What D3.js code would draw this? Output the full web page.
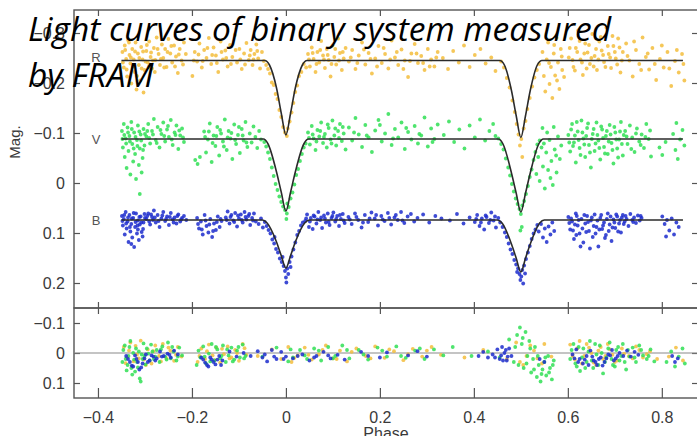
<!DOCTYPE html>
<html>
<head>
  <meta charset="utf-8">
  <title>FRAM light curves</title>
  <style>
    body { margin: 0; background: #fff; }
    svg { display: block; }
  </style>
</head>
<body>
<script src="https://cdn.jsdelivr.net/npm/d3@7"></script>
<script>
  // observed magnitudes per filter, [phase, mag]
  var rPoints = [
    [-.348,-.262],[-.345,-.231],[-.343,-.275],[-.340,-.248],[-.338,-.213],[-.336,-.286],[-.333,-.256],[-.331,-.239],[-.329,-.199],[-.327,-.268],[-.324,-.247],[-.322,-.222],[-.320,-.281],[-.318,-.187],[-.315,-.259],[-.313,-.236],[-.310,-.205],[-.308,-.272],[-.305,-.247],[-.303,-.181],[-.301,-.226],
    [-.347,-.241],[-.342,-.266],[-.339,-.227],[-.334,-.281],[-.330,-.251],[-.326,-.233],[-.321,-.263],[-.317,-.214],[-.312,-.250],[-.307,-.229],[-.304,-.263],
    [-.297,-.264],[-.294,-.241],[-.291,-.283],[-.288,-.252],[-.285,-.229],[-.281,-.270],[-.278,-.246],[-.275,-.291],[-.271,-.258],[-.268,-.236],[-.264,-.277],[-.261,-.250],[-.257,-.268],[-.254,-.232],[-.250,-.288],[-.246,-.259],[-.242,-.241],[-.238,-.275],[-.234,-.253],[-.230,-.220],[-.226,-.268],[-.222,-.245],[-.217,-.281],[-.213,-.258],
    [-.299,-.243],[-.296,-.276],[-.292,-.232],[-.287,-.261],[-.283,-.245],[-.279,-.222],[-.273,-.268],[-.266,-.248],[-.259,-.231],[-.252,-.262],[-.244,-.274],[-.236,-.233],[-.228,-.257],[-.219,-.237],
    [-.199,-.214],[-.194,-.262],[-.189,-.243],[-.184,-.279],[-.179,-.231],[-.174,-.266],[-.169,-.250],[-.164,-.290],[-.159,-.238],[-.154,-.271],[-.149,-.255],[-.144,-.222],[-.139,-.283],[-.134,-.247],[-.129,-.265],[-.124,-.233],[-.119,-.276],[-.114,-.252],[-.109,-.296],[-.104,-.241],[-.099,-.268],[-.094,-.228],[-.089,-.259],[-.084,-.280],
    [-.196,-.245],[-.186,-.257],[-.177,-.244],[-.167,-.270],[-.157,-.256],[-.147,-.240],[-.137,-.262],[-.127,-.250],[-.117,-.238],[-.107,-.266],[-.097,-.247],[-.087,-.237],
    [-.079,-.246],[-.075,-.266],[-.071,-.236],[-.067,-.258],[-.063,-.277],[-.059,-.249],[-.055,-.229],[-.051,-.262],[-.047,-.244],[-.077,-.255],[-.069,-.247],[-.061,-.264],
    [-.042,-.236],[-.038,-.228],[-.034,-.219],[-.030,-.201],[-.026,-.196],[-.022,-.178],[-.018,-.168],[-.014,-.146],[-.010,-.132],[-.006,-.112],[-.002,-.101],[.002,-.094],[.004,-.109],[.008,-.123],[.012,-.141],[.016,-.160],[.020,-.182],[.024,-.195],[.028,-.214],[.033,-.222],[.038,-.238],[.043,-.231],
    [.047,-.258],[.051,-.233],[.055,-.271],[.059,-.248],[.063,-.222],[.067,-.262],[.071,-.241],[.075,-.284],[.079,-.255],[.083,-.230],[.087,-.268],[.091,-.246],[.095,-.213],[.099,-.275],[.103,-.252],[.107,-.237],[.111,-.289],[.115,-.260],[.119,-.226],[.123,-.249],[.127,-.270],
    [.049,-.247],[.057,-.260],[.065,-.238],[.073,-.266],[.081,-.247],[.089,-.256],[.097,-.238],[.105,-.268],[.113,-.245],[.121,-.262],
    [.134,-.243],[.141,-.266],[.148,-.228],[.155,-.255],[.162,-.281],[.169,-.237],[.176,-.260],[.183,-.219],[.190,-.249],[.197,-.274],[.204,-.240],[.211,-.258],[.218,-.229],[.225,-.285],[.232,-.251],[.239,-.236],[.246,-.267],[.253,-.245],[.260,-.212],[.267,-.259],[.274,-.278],[.281,-.240],[.288,-.254],[.295,-.226],[.302,-.268],[.309,-.247],[.316,-.233],[.323,-.262],
    [.138,-.251],[.152,-.240],[.166,-.267],[.180,-.248],[.194,-.233],[.208,-.270],[.222,-.247],[.236,-.262],[.250,-.228],[.264,-.244],[.278,-.259],[.292,-.240],[.306,-.233],[.320,-.251],
    [.334,-.250],[.345,-.228],[.356,-.264],[.368,-.241],[.379,-.275],[.391,-.232],[.402,-.256],[.414,-.268],[.425,-.239],[.437,-.251],[.446,-.224],
    [.458,-.243],[.464,-.231],[.470,-.210],[.476,-.191],[.482,-.165],[.487,-.142],[.491,-.118],[.495,-.097],[.498,-.075],[.501,-.088],[.503,-.052],[.506,-.109],[.510,-.124],[.514,-.148],[.519,-.170],[.524,-.193],[.529,-.211],[.534,-.226],[.539,-.238],
    [.546,-.262],[.549,-.214],[.552,-.183],[.555,-.247],[.558,-.281],[.561,-.198],[.564,-.232],[.567,-.170],[.570,-.259],[.573,-.215],[.576,-.290],[.579,-.241],[.582,-.188],[.585,-.268],[.588,-.226],
    [.560,-.240],[.571,-.276],[.577,-.205],[.587,-.253],[.592,-.212],
    [.602,-.251],[.607,-.289],[.612,-.232],[.617,-.270],[.622,-.305],[.627,-.247],[.632,-.216],[.637,-.279],[.642,-.261],[.647,-.238],[.652,-.298],[.657,-.254],[.662,-.226],[.667,-.283],[.672,-.265],[.677,-.242],[.682,-.311],[.687,-.258],[.692,-.230],[.697,-.274],[.702,-.249],[.707,-.289],[.712,-.221],[.717,-.262],
    [.604,-.270],[.610,-.246],[.615,-.225],[.620,-.262],[.625,-.284],[.630,-.241],[.635,-.259],[.640,-.229],[.645,-.276],[.650,-.250],[.655,-.233],[.660,-.268],[.665,-.247],[.670,-.292],[.675,-.256],[.680,-.232],[.685,-.274],[.690,-.251],[.695,-.294],[.700,-.262],[.705,-.237],[.710,-.271],[.715,-.245],
    [.724,-.279],[.731,-.245],[.738,-.213],[.745,-.266],[.752,-.238],[.759,-.291],[.766,-.252],[.773,-.227],[.780,-.270],[.788,-.206],[.796,-.248],[.804,-.231],[.812,-.262],[.820,-.194],[.828,-.244],[.836,-.221],[.843,-.258],[.848,-.205],
    [.727,-.254],[.741,-.283],[.756,-.226],[.770,-.259],[.785,-.238],[.800,-.275],[.816,-.229],[.832,-.266],[.846,-.238]
  ];

  var vPoints = [
    [-.349,-.104],[-.347,-.071],[-.345,-.118],[-.343,-.052],[-.341,-.089],[-.339,-.030],[-.337,-.111],[-.335,-.064],[-.333,-.094],[-.331,-.017],[-.329,-.122],[-.327,-.078],[-.325,-.043],[-.323,-.101],[-.321,-.058],[-.319,-.008],[-.317,-.086],[-.315,-.115],[-.313,-.036],[-.311,-.069],[-.309,-.097],[-.307,-.021],[-.305,-.050],[-.303,-.108],[-.301,-.075],[-.311,.022],
    [-.348,-.088],[-.344,-.096],[-.340,-.079],[-.336,-.101],[-.332,-.083],[-.328,-.108],[-.324,-.069],[-.320,-.092],[-.316,-.074],[-.312,-.103],[-.308,-.085],[-.304,-.066],[-.300,-.098],
    [-.297,-.093],[-.293,-.118],[-.289,-.079],[-.285,-.104],[-.281,-.128],[-.277,-.086],[-.273,-.112],[-.269,-.071],[-.265,-.098],[-.261,-.121],[-.257,-.083],[-.253,-.107],[-.249,-.092],[-.245,-.126],[-.241,-.076],[-.237,-.101],[-.233,-.115],[-.229,-.068],[-.225,-.095],[-.221,-.109],[-.217,-.082],
    [-.295,-.104],[-.291,-.090],[-.283,-.097],[-.275,-.080],[-.267,-.106],[-.259,-.094],[-.251,-.114],[-.243,-.087],[-.235,-.096],[-.227,-.105],[-.219,-.091],
    [-.193,-.046],[-.188,-.038],[-.183,-.052],
    [-.174,-.103],[-.170,-.061],[-.166,-.087],[-.162,-.119],[-.158,-.042],[-.154,-.095],[-.150,-.074],[-.146,-.112],[-.142,-.055],[-.138,-.099],[-.134,-.083],[-.130,-.127],[-.126,-.066],[-.122,-.104],[-.118,-.089],[-.114,-.048],[-.110,-.117],[-.106,-.078],[-.102,-.096],[-.098,-.060],[-.094,-.108],[-.090,-.085],[-.086,-.122],[-.082,-.072],
    [-.172,-.092],[-.164,-.103],[-.156,-.080],[-.148,-.094],[-.140,-.106],[-.132,-.073],[-.124,-.091],[-.116,-.100],[-.108,-.086],[-.100,-.112],[-.092,-.095],[-.084,-.081],
    [-.077,-.099],[-.073,-.081],[-.069,-.113],[-.065,-.092],[-.061,-.070],[-.057,-.104],[-.053,-.087],
    [-.046,-.082],[-.042,-.073],[-.038,-.061],[-.034,-.048],[-.030,-.031],[-.026,-.014],[-.022,.002],[-.018,.014],[-.014,.027],[-.010,.038],[-.006,.047],[-.002,.054],[.002,.061],[.003,.041],[.006,.048],[.010,.031],[.014,.019],[.018,.003],[.022,-.016],[.026,-.028],[.030,-.044],[.034,-.058],[.038,-.071],[.042,-.079],[.001,.072],
    [.047,-.101],[.051,-.077],[.055,-.114],[.059,-.089],[.063,-.066],[.067,-.106],[.071,-.093],[.075,-.121],[.079,-.080],[.083,-.098],[.087,-.071],[.091,-.110],[.095,-.087],[.099,-.125],[.103,-.095],[.107,-.075],[.111,-.104],[.115,-.118],[.119,-.084],[.123,-.099],[.127,-.067],
    [.049,-.090],[.057,-.097],[.065,-.083],[.073,-.104],[.081,-.092],[.089,-.117],[.097,-.079],[.105,-.109],[.113,-.090],[.121,-.112],
    [.134,-.111],[.141,-.085],[.148,-.130],[.155,-.097],[.162,-.072],[.169,-.116],[.176,-.091],[.183,-.062],[.190,-.105],[.197,-.126],[.204,-.083],[.211,-.099],[.218,-.138],[.225,-.076],[.232,-.108],[.239,-.091],[.246,-.121],[.253,-.068],[.260,-.102],[.267,-.087],[.274,-.114],[.281,-.079],[.288,-.095],[.295,-.131],[.302,-.073],[.309,-.109],[.316,-.088],[.323,-.117],
    [.145,-.101],[.172,-.095],[.200,-.116],[.228,-.089],[.256,-.110],[.284,-.098],[.312,-.082],
    [.336,-.096],[.347,-.123],[.358,-.082],[.369,-.107],[.380,-.069],[.391,-.115],[.402,-.091],[.413,-.127],[.424,-.085],[.433,-.104],[.441,-.118],[.446,-.094],
    [.452,-.089],[.458,-.078],[.463,-.067],[.468,-.049],[.473,-.031],[.477,-.015],[.481,.002],[.485,.017],[.489,.031],[.493,.042],[.497,.052],[.500,.062],[.502,.088],[.503,.045],[.507,.036],[.511,.022],[.515,.006],[.519,-.012],[.523,-.027],[.527,-.046],[.531,-.062],[.535,-.077],[.540,-.085],[.499,.095],
    [.533,-.018],[.537,-.052],[.540,-.004],[.544,-.071],[.547,-.033],[.551,.011],[.554,-.061],[.558,-.026],[.561,-.086],[.565,-.044],[.568,.004],[.572,-.067],[.576,-.021],[.579,-.093],[.583,-.048],[.546,-.110],[.556,-.101],[.570,-.112],
    [.549,-.079],[.563,-.010],[.575,-.055],[.586,-.075],
    [.601,-.096],[.605,-.063],[.609,-.118],[.613,-.081],[.617,-.041],[.621,-.103],[.625,-.070],[.629,-.125],[.633,-.089],[.637,-.052],[.641,-.110],[.645,-.076],[.649,-.031],[.653,-.098],[.657,-.064],[.661,-.121],[.665,-.085],[.669,-.047],[.673,-.107],[.677,-.072],[.681,-.094],[.685,-.058],[.689,-.116],[.693,-.080],[.697,-.039],[.701,-.101],[.705,-.069],[.709,-.087],[.713,-.122],[.717,-.055],
    [.603,-.081],[.607,-.107],[.611,-.074],[.615,-.095],[.619,-.122],[.623,-.086],[.627,-.056],[.631,-.101],[.635,-.077],[.639,-.094],[.643,-.119],[.647,-.061],[.651,-.088],[.655,-.108],[.659,-.079],[.663,-.096],[.667,-.070],[.671,-.113],[.675,-.090],[.679,-.059],[.683,-.104],[.687,-.083],[.691,-.097],[.695,-.066],[.699,-.112],[.703,-.087],[.707,-.051],[.711,-.103],[.715,-.078],[.719,-.096],
    [.722,-.104],[.727,-.078],[.732,-.115],[.737,-.091],[.742,-.062],[.747,-.109],[.752,-.083],[.757,-.097],[.762,-.070],[.767,-.118],[.772,-.088],[.777,-.053],
    [.725,-.093],[.735,-.068],[.745,-.099],[.755,-.076],[.765,-.092],[.775,-.105],
    [.795,-.071],[.801,-.056],[.808,-.082],[.824,-.098],[.829,-.066],[.834,-.048],[.839,-.087],[.844,-.106],[.848,-.075],[.831,-.120]
  ];

  var bPoints = [
    [-.349,.066],[-.347,.085],[-.345,.072],[-.343,.103],[-.341,.058],[-.339,.091],[-.337,.077],[-.335,.118],[-.333,.064],[-.331,.097],[-.329,.082],[-.327,.109],[-.325,.070],[-.323,.128],[-.321,.088],[-.319,.061],[-.317,.101],[-.315,.075],[-.313,.114],[-.311,.083],[-.309,.067],[-.307,.098],[-.305,.107],[-.303,.079],[-.301,.062],[-.329,.122],[-.315,.093],
    [-.348,.076],[-.344,.064],[-.340,.081],[-.336,.069],[-.332,.088],[-.328,.071],[-.324,.060],[-.320,.078],[-.316,.085],[-.312,.068],[-.308,.079],[-.304,.092],[-.300,.070],
    [-.297,.072],[-.293,.061],[-.289,.083],[-.285,.068],[-.281,.055],[-.277,.079],[-.273,.064],[-.269,.088],[-.265,.071],[-.261,.058],[-.257,.076],[-.253,.067],[-.249,.084],[-.245,.060],[-.241,.073],[-.237,.069],[-.233,.081],[-.229,.063],[-.225,.077],[-.221,.070],[-.217,.066],[-.212,.074],
    [-.295,.066],[-.291,.077],[-.287,.063],[-.283,.074],[-.279,.069],[-.271,.076],[-.263,.065],[-.255,.072],[-.247,.068],[-.239,.079],[-.231,.066],[-.223,.073],
    [-.189,.070],[-.185,.091],[-.181,.077],[-.177,.103],[-.173,.064],[-.169,.086],[-.165,.099],[-.161,.072],[-.157,.108],[-.153,.081],[-.149,.094],[-.145,.067],[-.141,.088],[-.137,.076],
    [-.187,.082],[-.179,.093],[-.171,.075],[-.163,.083],[-.155,.096],[-.147,.078],[-.139,.072],
    [-.128,.069],[-.124,.057],[-.120,.081],[-.116,.064],[-.112,.075],[-.108,.060],[-.104,.087],[-.100,.071],[-.096,.063],[-.092,.079],[-.088,.058],[-.084,.073],[-.080,.066],[-.076,.084],[-.072,.070],[-.068,.061],[-.064,.077],
    [-.126,.074],[-.118,.068],[-.110,.078],[-.102,.065],[-.094,.074],[-.086,.068],[-.078,.062],[-.070,.075],
    [-.058,.082],[-.053,.071],[-.049,.089],[-.045,.078],
    [-.041,.086],[-.037,.094],[-.033,.101],[-.029,.113],[-.025,.121],[-.021,.132],[-.017,.139],[-.013,.151],[-.009,.158],[-.005,.166],[-.002,.176],[.000,.189],[.001,.199],[.003,.171],[.005,.182],[.008,.158],[.012,.147],[.016,.133],[.020,.119],[.024,.104],[.028,.096],[.032,.085],[.036,.079],[-.007,.148],[.010,.168],[-.024,.108],
    [.041,.076],[.045,.063],[.049,.088],[.053,.070],[.057,.092],[.061,.067],[.065,.081],[.069,.058],[.073,.074],[.077,.090],[.081,.065],[.085,.079],[.089,.061],[.093,.084],[.097,.070],[.101,.059],[.105,.077],[.109,.066],[.113,.086],[.117,.072],[.121,.062],[.125,.080],
    [.043,.071],[.051,.077],[.059,.065],[.067,.073],[.075,.069],[.083,.071],[.091,.078],[.099,.066],[.107,.072],[.115,.064],[.123,.075],
    [.133,.068],[.140,.082],[.147,.061],[.154,.074],[.161,.089],[.168,.064],[.175,.078],[.182,.059],[.189,.071],[.196,.085],[.203,.066],[.210,.076],[.217,.060],[.224,.083],[.231,.069],[.238,.074],[.245,.058],[.252,.080],[.259,.067],[.266,.062],[.273,.077],[.280,.070],
    [.136,.073],[.150,.068],[.164,.079],[.178,.071],[.192,.064],[.206,.073],[.220,.070],[.234,.064],[.248,.075],
    [.292,.063],[.305,.079],[.318,.066],[.331,.071],[.349,.075],[.364,.062],[.378,.081],[.391,.069],
    [.402,.078],[.407,.064],[.412,.086],[.417,.071],[.422,.093],[.427,.068],[.432,.080],[.437,.059],[.442,.075],[.447,.089],[.452,.070],
    [.405,.072],[.415,.079],[.425,.065],[.435,.074],[.445,.067],
    [.456,.079],[.461,.088],[.466,.099],[.470,.108],[.474,.121],[.478,.133],[.482,.142],[.486,.154],[.490,.163],[.494,.171],[.497,.182],[.499,.194],[.501,.187],[.503,.174],[.505,.201],[.507,.165],[.511,.152],[.515,.139],[.519,.126],[.523,.112],[.527,.101],[.531,.093],[.535,.084],[.492,.178],[.509,.181],
    [.538,.097],[.543,.082],[.547,.109],[.551,.091],[.555,.118],[.559,.087],[.563,.103],[.567,.079],[.571,.096],
    [.601,.068],[.605,.093],[.609,.077],[.613,.112],[.617,.061],[.621,.085],[.625,.101],[.629,.072],[.633,.119],[.637,.081],[.641,.066],[.645,.096],[.649,.075],[.653,.108],[.657,.063],[.661,.088],[.665,.127],[.669,.070],[.673,.092],[.677,.079],[.681,.104],[.685,.061],[.689,.083],[.693,.116],[.697,.073],[.701,.090],[.705,.067],[.709,.081],[.713,.099],[.717,.064],[.721,.077],[.725,.072],[.729,.086],[.733,.062],[.737,.074],[.741,.069],[.745,.080],[.749,.065],[.753,.075],[.757,.070],[.627,.127],[.647,.131],[.618,.104],
    [.603,.080],[.607,.071],[.611,.095],[.615,.083],[.619,.066],[.623,.074],[.631,.091],[.635,.064],[.639,.098],[.643,.078],[.651,.069],[.655,.086],[.659,.101],[.663,.075],[.667,.093],[.671,.064],[.675,.085],[.679,.110],[.683,.072],[.687,.096],[.691,.067],[.695,.089],[.699,.079],[.703,.063],[.707,.097],[.711,.074],[.715,.069],[.719,.082],[.723,.066],[.739,.078],[.755,.066],
    [.801,.067],[.806,.082],[.811,.074],[.816,.095],[.821,.071],[.826,.103],[.831,.079],[.836,.088],[.809,.107]
  ];

  // fitted model curves, [phase, mag]
  var rModel = [[-.35,-.245],[-.045,-.245],[-.035,-.236],[-.02,-.19],[-.01,-.14],[0,-.096],[.01,-.14],[.02,-.19],[.035,-.236],[.045,-.245],[.455,-.245],[.465,-.236],[.48,-.185],[.49,-.135],[.5,-.091],[.51,-.135],[.52,-.185],[.535,-.236],[.545,-.245],[.845,-.245]];
  var vModel = [[-.35,-.088],[-.048,-.088],[-.038,-.078],[-.02,-.022],[-.01,.018],[0,.056],[.01,.018],[.02,-.022],[.038,-.078],[.048,-.088],[.452,-.088],[.462,-.078],[.48,-.02],[.49,.02],[.5,.058],[.51,.02],[.52,-.02],[.538,-.078],[.548,-.088],[.845,-.088]];
  var bModel = [[-.35,.074],[-.05,.074],[-.04,.08],[-.02,.118],[-.01,.145],[0,.17],[.01,.145],[.02,.118],[.04,.08],[.05,.074],[.45,.074],[.46,.08],[.48,.122],[.49,.15],[.5,.178],[.51,.15],[.52,.122],[.54,.08],[.55,.074],[.845,.074]];

  // residuals observed minus model, [phase, dmag]
  var rResid = [
    [-.345,-.02],[-.338,.015],[-.331,-.035],[-.324,.028],[-.317,.005],[-.309,-.041],[-.302,.022],[-.294,-.012],[-.286,.035],[-.278,-.025],[-.270,.010],[-.262,-.030],[-.254,.018],[-.246,-.008],[-.238,.026],[-.230,-.020],[-.222,.012],
    [-.341,.034],[-.334,-.008],[-.327,.045],[-.320,-.024],[-.313,.018],[-.298,.040],[-.282,-.006],[-.266,.028],[-.250,-.018],[-.234,.006],
    [-.188,.030],[-.180,-.015],[-.172,.020],[-.164,-.028],[-.156,.008],[-.148,-.018],[-.140,.032],[-.132,.004],[-.124,-.022],[-.116,.015],[-.108,-.010],[-.100,.026],[-.092,-.030],[-.084,.006],
    [-.184,.010],[-.168,-.006],[-.152,.024],[-.136,-.014],[-.120,.018],[-.104,.000],[-.088,-.016],
    [-.060,.010],[-.030,-.012],[-.010,.020],[.012,.030],[.025,.008],[.040,-.018],[.055,.022],[.070,.005],[.085,-.025],[.100,.018],[.115,-.008],[.130,.028],[.150,-.015],[.170,.010],[.190,-.022],[.210,.016],[.230,-.006],[.250,.024],[.270,-.014],[.290,.012],[.310,-.020],[.330,.006],[.380,.015],[.420,-.010],
    [.005,-.020],[.018,.016],[.048,.006],[.078,-.010],[.108,.020],[.140,-.004],[.180,.018],[.220,-.012],[.260,.004],[.300,-.008],
    [.470,.020],[.490,-.035],[.505,.040],[.520,-.025],[.535,.018],[.550,-.030],[.565,.012],[.498,.030],[.512,.010],[.528,-.008],[.545,.035],
    [.605,-.028],[.615,.022],[.625,-.040],[.635,.010],[.645,-.018],[.655,.032],[.665,-.008],[.675,.020],[.685,-.030],[.695,.006],[.705,.025],[.715,-.015],[.730,.010],[.745,-.022],[.760,.015],[.775,-.006],[.790,.020],[.815,.012],[.830,-.018],[.845,.025],
    [.610,.010],[.620,-.015],[.630,.035],[.640,-.030],[.650,.000],[.660,.040],[.670,-.020],[.680,.010],[.690,-.012],[.700,.030],[.720,.002],[.738,.018],[.752,-.010],[.768,.004]
  ];

  var vResid = [
    [-.348,.030],[-.343,-.025],[-.339,.058],[-.335,.010],[-.331,-.040],[-.327,.072],[-.323,.022],[-.319,-.015],[-.315,.048],[-.311,.085],[-.307,.005],[-.303,-.032],[-.299,.038],[-.293,.002],[-.287,-.028],[-.281,.020],[-.275,-.010],[-.269,.030],[-.263,-.022],[-.257,.012],[-.251,-.035],[-.245,.018],[-.239,-.005],[-.233,.025],[-.227,-.018],[-.221,.008],
    [-.346,-.010],[-.341,.020],[-.337,.040],[-.333,-.020],[-.329,.050],[-.325,.000],[-.321,.062],[-.317,.030],[-.313,-.005],[-.309,.095],[-.305,.020],[-.301,.010],[-.296,-.015],[-.290,.025],[-.284,-.005],[-.278,.012],[-.266,-.012],[-.254,.022],[-.242,-.020],[-.230,.012],
    [-.190,.040],[-.182,.015],[-.176,-.022],[-.170,.035],[-.164,.002],[-.158,-.030],[-.152,.025],[-.146,-.012],[-.140,.018],[-.134,-.025],[-.128,.030],[-.122,.008],[-.116,-.018],[-.110,.022],[-.104,-.008],[-.098,.015],[-.092,-.028],[-.086,.010],
    [-.186,-.008],[-.173,.012],[-.161,.028],[-.149,-.020],[-.137,.010],[-.125,-.012],[-.113,.028],[-.101,-.020],[-.089,.018],
    [-.050,.012],[-.020,-.018],[.005,.028],[.015,.015],[.030,-.010],[.045,.020],[.060,-.015],[.075,.025],[.090,-.020],[.105,.010],[.120,-.025],[.135,.018],[.155,-.010],[.175,.022],[.195,-.018],[.215,.012],[.235,-.022],[.255,.016],[.275,-.008],[.295,.020],[.315,-.012],[.335,.008],[.355,-.020],[.395,.010],[.430,-.005],[.455,.015],
    [.010,-.012],[.040,.008],[.070,-.008],[.100,.018],[.130,-.010],[.165,.005],[.205,-.008],[.245,.010],[.285,-.015],
    [.475,-.045],[.485,.030],[.492,-.060],[.498,-.085],[.502,-.030],[.506,.050],[.510,-.070],[.514,.010],[.518,-.040],[.522,.065],[.526,.020],[.530,-.020],[.534,.080],[.538,.040],[.542,.095],[.546,.055],[.550,.030],[.554,.075],[.558,.010],[.562,.050],[.566,.088],[.570,.025],
    [.488,-.020],[.495,.040],[.504,-.050],[.512,.035],[.520,-.015],[.528,.055],[.536,.010],[.544,.070],[.552,.015],[.560,.065],[.568,.040],
    [.605,.020],[.612,-.030],[.619,.045],[.626,.060],[.633,-.015],[.640,.030],[.647,-.040],[.654,.050],[.661,.005],[.668,-.025],[.675,.068],[.682,.015],[.689,-.035],[.696,.040],[.703,-.010],[.710,.025],[.717,-.030],[.724,.055],[.731,.012],[.738,-.018],[.745,.030],[.752,-.025],[.760,.008],[.768,.020],[.776,-.012],[.784,.028],
    [.608,-.010],[.616,.035],[.623,-.020],[.630,.015],[.637,.050],[.644,-.005],[.651,.025],[.658,-.030],[.665,.040],[.672,.000],[.679,.030],[.686,-.015],[.693,.020],[.700,.045],[.707,-.020],[.714,.010],[.721,.030],[.728,-.010],[.742,.015],[.756,-.010],[.772,.010],
    [.810,.030],[.820,-.005],[.828,.045],[.836,.012],[.844,-.015],[.849,.035]
  ];

  var bResid = [
    [-.340,.010],[-.332,.030],[-.325,.045],[-.318,.020],[-.312,.055],[-.305,.035],[-.298,.005],[-.290,.025],[-.282,.012],[-.275,.018],[-.268,-.005],[-.260,.010],[-.252,.002],[-.245,.015],[-.238,-.008],[-.230,.005],
    [-.336,.020],[-.328,.042],[-.321,.008],[-.315,.030],[-.308,.048],[-.301,.018],[-.294,.030],[-.286,.008],[-.278,.025],[-.264,.012],[-.248,.006],
    [-.180,.015],[-.172,.032],[-.165,.045],[-.158,.022],[-.150,.038],[-.142,.010],[-.135,.025],[-.120,-.005],[-.105,.012],[-.090,.000],[-.075,.010],[-.060,-.006],[-.050,.015],[-.040,.028],[-.030,-.010],[-.020,.020],[-.010,-.004],[.000,.012],[.015,.018],[.035,.005],[.050,.025],[.065,.010],[.080,-.004],[.095,.018],[.110,.006],[.125,.022],[.160,-.004],[.175,.010],[.200,.015],[.215,-.002],[.260,.008],[.280,-.006],[.300,.012],
    [-.176,.022],[-.168,.040],[-.161,.015],[-.154,.030],[-.146,.022],[-.138,.040],[-.045,.005],[-.025,.012],[-.005,.020],[.025,.010],[.060,.015],[.090,.008],
    [.410,.010],[.420,-.004],[.430,.015],[.440,.005],[.450,-.012],[.455,.020],[.460,-.020],[.465,.000],[.470,.025],[.475,-.015],[.480,.010],[.540,.020],[.550,.030],
    [.445,.015],[.458,.008],[.462,.025],[.468,-.010],[.472,.012],
    [.610,.005],[.618,-.012],[.625,.020],[.632,.035],[.640,.010],[.648,-.008],[.655,.025],[.662,.040],[.670,.015],[.678,.030],[.686,.005],[.694,-.010],[.702,.018],[.710,.000],[.718,.010],[.726,-.008],[.734,.012],[.742,-.004],[.750,.006],[.822,.010],[.828,.030],[.834,.018],
    [.614,.018],[.622,.030],[.636,.022],[.644,.040],[.652,.012],[.659,.030],[.666,.020],[.674,.042],[.682,.018],[.690,.008],[.698,.025],[.706,.010]
  ];

  var phaseTicks = [-0.4, -0.2, 0, 0.2, 0.4, 0.6, 0.8];
  var magTicks = [-0.3, -0.2, -0.1, 0, 0.1, 0.2];
  var residTicks = [-0.1, 0, 0.1];
  var filterLabels = [
    { name: "R", mag: -0.252 },
    { name: "V", mag: -0.088 },
    { name: "B", mag: 0.074 }
  ];
  var titleLines = ["Light curves of binary system measured", "by FRAM"];

  var colors = { R: "#f3bd3c", V: "#30df55", B: "#1c2bcc" };

  var width = 697;
  var height = 436;
  var left = 74, right = 698;
  var mainTop = 10, mainBottom = 308, resBottom = 398;

  var svg = d3.select("body").append("svg")
    .attr("width", width)
    .attr("height", height);

  var x = d3.scaleLinear().domain([-0.451, 0.877]).range([left, right]);
  var y = d3.scaleLinear().domain([-0.346, 0.25]).range([mainTop, mainBottom]);
  var yr = d3.scaleLinear().domain([-0.15, 0.15]).range([mainBottom, resBottom]);

  function tickFmt(d) {
    return d === 0 ? "0" : d3.format(".1f")(d);
  }

  var axisColor = "#555";
  var labelFont = "'Liberation Sans', Arial, sans-serif";

  function styleAxis(g, showText) {
    g.select(".domain").remove();
    g.selectAll(".tick line").attr("stroke", axisColor).attr("stroke-width", 1.2);
    g.selectAll(".tick text")
      .attr("fill", "#3a3a3a")
      .style("font-family", labelFont)
      .style("font-size", "16px");
    if (!showText) g.selectAll(".tick text").remove();
  }

  // main panel axes
  svg.append("g").attr("transform", "translate(" + left + ",0)")
    .call(d3.axisLeft(y).tickValues(magTicks).tickSize(-6).tickPadding(9).tickFormat(tickFmt))
    .call(styleAxis, true);
  svg.append("g").attr("transform", "translate(" + right + ",0)")
    .call(d3.axisRight(y).tickValues(magTicks).tickSize(-6))
    .call(styleAxis, false);
  svg.append("g").attr("transform", "translate(0," + mainTop + ")")
    .call(d3.axisTop(x).tickValues(phaseTicks).tickSize(-6))
    .call(styleAxis, false);
  svg.append("g").attr("transform", "translate(0," + mainBottom + ")")
    .call(d3.axisBottom(x).tickValues(phaseTicks).tickSize(-6))
    .call(styleAxis, false);

  // residual panel axes
  svg.append("g").attr("transform", "translate(" + left + ",0)")
    .call(d3.axisLeft(yr).tickValues(residTicks).tickSize(-6).tickPadding(9).tickFormat(tickFmt))
    .call(styleAxis, true);
  svg.append("g").attr("transform", "translate(" + right + ",0)")
    .call(d3.axisRight(yr).tickValues(residTicks).tickSize(-6))
    .call(styleAxis, false);
  svg.append("g").attr("transform", "translate(0," + mainBottom + ")")
    .call(d3.axisTop(x).tickValues(phaseTicks).tickSize(-6))
    .call(styleAxis, false);
  svg.append("g").attr("transform", "translate(0," + resBottom + ")")
    .call(d3.axisBottom(x).tickValues(phaseTicks).tickSize(-10).tickPadding(14).tickFormat(tickFmt))
    .call(styleAxis, true);

  // frames
  var frame = svg.append("g").attr("fill", "none").attr("stroke", axisColor).attr("stroke-width", 1.4);
  frame.append("rect").attr("x", left).attr("y", mainTop).attr("width", right - left).attr("height", mainBottom - mainTop);
  frame.append("rect").attr("x", left).attr("y", mainBottom).attr("width", right - left).attr("height", resBottom - mainBottom);

  // zero line of the residuals
  svg.append("line")
    .attr("x1", left).attr("x2", right)
    .attr("y1", yr(0)).attr("y2", yr(0))
    .attr("stroke", "#8a8a8a").attr("stroke-width", 1.2);

  function dots(data, color, scale) {
    svg.append("g").selectAll("circle").data(data).enter().append("circle")
      .attr("cx", function(d) { return x(d[0]); })
      .attr("cy", function(d) { return scale(d[1]); })
      .attr("r", 1.9)
      .attr("fill", color)
      .attr("fill-opacity", 0.85);
  }

  dots(rPoints, colors.R, y);
  dots(vPoints, colors.V, y);
  dots(bPoints, colors.B, y);

  dots(rResid, colors.R, yr);
  dots(vResid, colors.V, yr);
  dots(bResid, colors.B, yr);

  var line = d3.line()
    .x(function(d) { return x(d[0]); })
    .y(function(d) { return y(d[1]); })
    .curve(d3.curveMonotoneX);

  [rModel, vModel, bModel].forEach(function(m) {
    svg.append("path").datum(m)
      .attr("d", line)
      .attr("fill", "none")
      .attr("stroke", "#2b2b2b")
      .attr("stroke-width", 1.6);
  });

  // filter names at the start of each curve
  svg.selectAll(".flabel").data(filterLabels).enter().append("text")
    .attr("class", "flabel")
    .attr("x", 96)
    .attr("y", function(d) { return y(d.mag); })
    .attr("dy", "0.35em")
    .attr("text-anchor", "middle")
    .attr("fill", "#555")
    .style("font-family", labelFont)
    .style("font-size", "13px")
    .text(function(d) { return d.name; });

  // axis titles
  svg.append("text")
    .attr("transform", "translate(20,142) rotate(-90)")
    .attr("text-anchor", "middle")
    .attr("fill", "#3a3a3a")
    .style("font-family", labelFont)
    .style("font-size", "15px")
    .text("Mag.");

  svg.append("text")
    .attr("x", (left + right) / 2)
    .attr("y", 439)
    .attr("text-anchor", "middle")
    .attr("fill", "#3a3a3a")
    .style("font-family", labelFont)
    .style("font-size", "16px")
    .text("Phase");

  // overlaid title
  svg.selectAll(".title").data(titleLines).enter().append("text")
    .attr("class", "title")
    .attr("x", 28)
    .attr("y", function(d, i) { return 41 + i * 46; })
    .attr("fill", "#000")
    .style("font-family", "'Open Sans', sans-serif")
    .style("font-style", "italic")
    .style("font-size", "33.5px")
    .text(function(d) { return d; });
</script>
</body>
</html>
